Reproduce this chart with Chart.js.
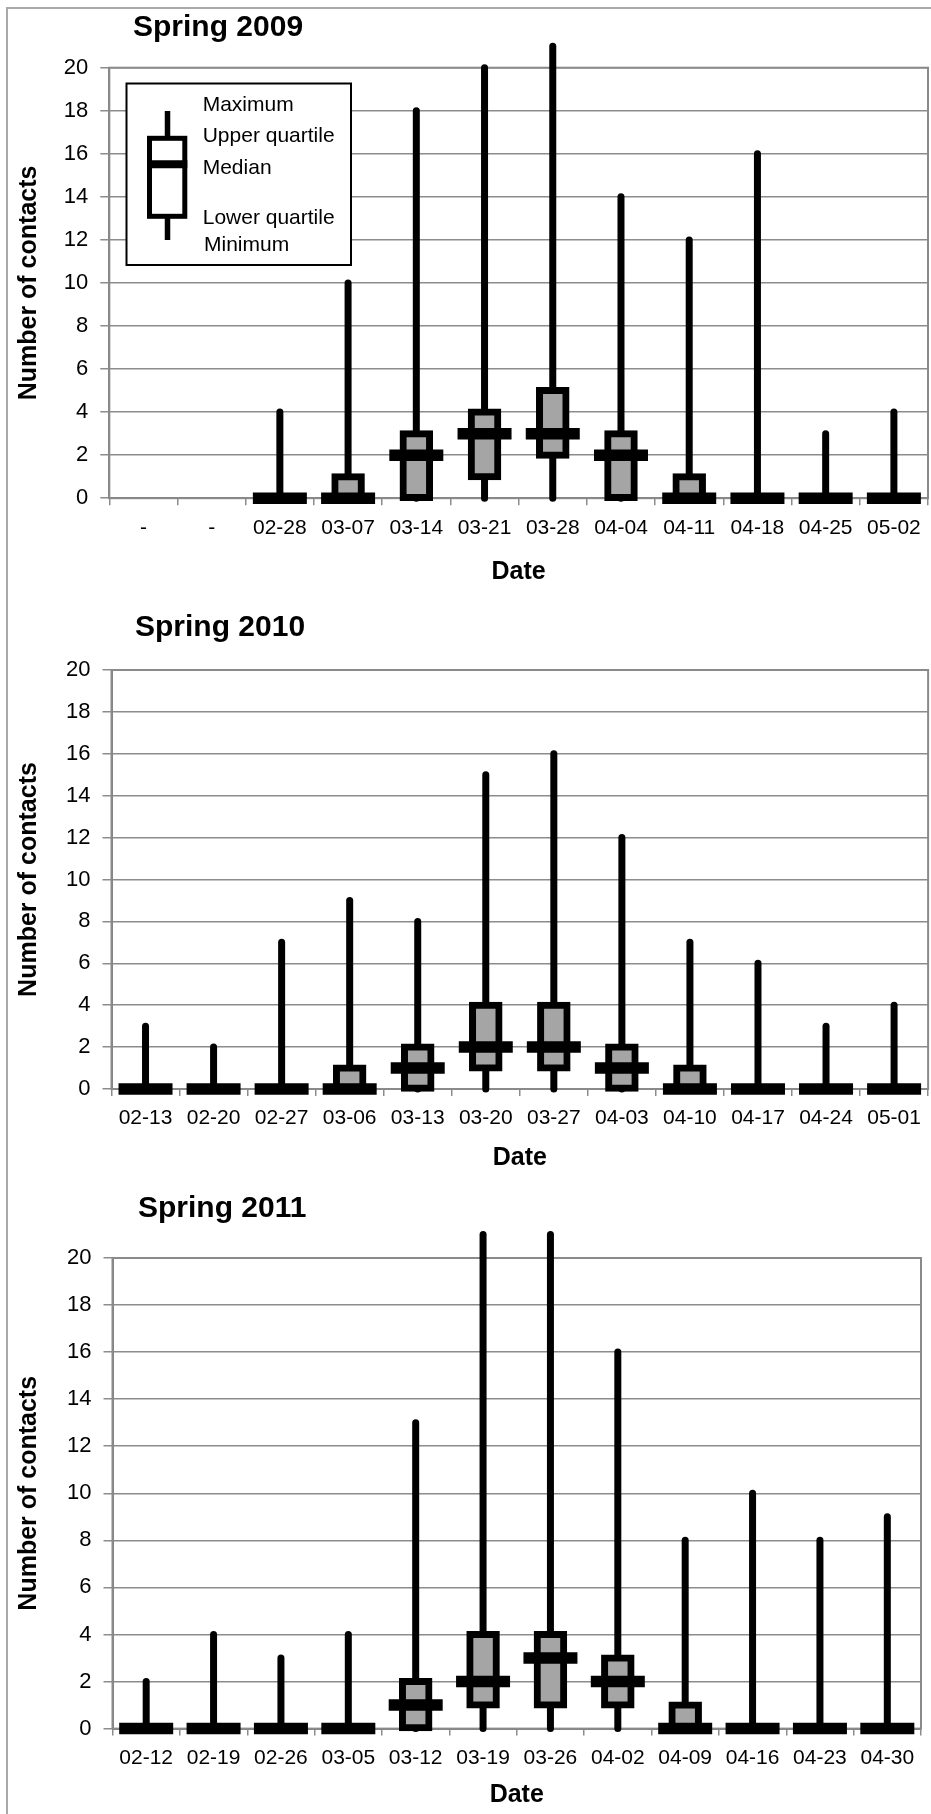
<!DOCTYPE html>
<html>
<head>
<meta charset="utf-8">
<script src="https://cdn.jsdelivr.net/npm/chart.js@4.4.1/dist/chart.umd.min.js"></script>
<style>
  html, body { margin: 0; padding: 0; background: #fff; overflow: hidden; }
  #page { position: relative; width: 931px; height: 1814px; }
  #frame { position: absolute; left: 6px; top: 7px; width: 940px; height: 1820px;
           border-left: 2px solid #a9a9a9; border-top: 2px solid #a9a9a9; }
  canvas { position: absolute; left: 0; }
</style>
</head>
<body>
<div id="page">
  <div id="frame"></div>
  <canvas id="c2009" width="931" height="600" style="top:0px;width:931px;height:600px"></canvas>
  <canvas id="c2010" width="931" height="590" style="top:600px;width:931px;height:590px"></canvas>
  <canvas id="c2011" width="931" height="624" style="top:1190px;width:931px;height:624px"></canvas>
</div>
<script>
// Weekly number of contacts: min, quartiles, median and max per survey week.

// ---- Spring 2009 ----
const dates2009 = ['-', '-', '02-28', '03-07', '03-14', '03-21', '03-28', '04-04', '04-11', '04-18', '04-25', '05-02'];
const min2009 = [null, null, 0, 0, 0, 0, 0, 0, 0, 0, 0, 0];
const q1_2009 = [null, null, 0, 0, 0, 1, 2, 0, 0, 0, 0, 0];
const med2009 = [null, null, 0, 0, 2, 3, 3, 2, 0, 0, 0, 0];
const q3_2009 = [null, null, 0, 1, 3, 4, 5, 3, 1, 0, 0, 0];
const max2009 = [null, null, 4, 10, 18, 20, 21, 14, 12, 16, 3, 4];

// ---- Spring 2010 ----
const dates2010 = ['02-13', '02-20', '02-27', '03-06', '03-13', '03-20', '03-27', '04-03', '04-10', '04-17', '04-24', '05-01'];
const min2010 = [0, 0, 0, 0, 0, 0, 0, 0, 0, 0, 0, 0];
const q1_2010 = [0, 0, 0, 0, 0, 1, 1, 0, 0, 0, 0, 0];
const med2010 = [0, 0, 0, 0, 1, 2, 2, 1, 0, 0, 0, 0];
const q3_2010 = [0, 0, 0, 1, 2, 4, 4, 2, 1, 0, 0, 0];
const max2010 = [3, 2, 7, 9, 8, 15, 16, 12, 7, 6, 3, 4];

// ---- Spring 2011 ----
const dates2011 = ['02-12', '02-19', '02-26', '03-05', '03-12', '03-19', '03-26', '04-02', '04-09', '04-16', '04-23', '04-30'];
const min2011 = [0, 0, 0, 0, 0, 0, 0, 0, 0, 0, 0, 0];
const q1_2011 = [0, 0, 0, 0, 0, 1, 1, 1, 0, 0, 0, 0];
const med2011 = [0, 0, 0, 0, 1, 2, 3, 2, 0, 0, 0, 0];
const q3_2011 = [0, 0, 0, 0, 2, 4, 4, 3, 1, 0, 0, 0];
const max2011 = [2, 4, 3, 4, 13, 21, 21, 16, 8, 10, 8, 9];

// Shared value axis
const yMin = 0;
const yMax = 20;
const yStep = 2;

const FONT = "'Liberation Sans', Arial, Helvetica, sans-serif";
const GRID = '#8c8c8c';
const BOX_FILL = '#a5a5a5';

// Whiskers: one thick round-capped segment per week, minimum to maximum
function whiskerSets(labels, lo, hi) {
  const sets = [];
  labels.forEach((lab, i) => {
    if (hi[i] == null || lo[i] == null) return;
    sets.push({
      type: 'line',
      data: [{ x: lab, y: lo[i] }, { x: lab, y: hi[i] }],
      borderColor: '#000', borderWidth: 7, borderCapStyle: 'round',
      pointRadius: 0, clip: false, order: 3
    });
  });
  return sets;
}

// Interquartile boxes as floating bars (only where the box has height)
function boxSet(q1, q3) {
  return {
    type: 'bar',
    data: q1.map((v, i) => (v != null && q3[i] != null && q3[i] > v) ? [v, q3[i]] : null),
    backgroundColor: BOX_FILL, borderColor: '#000', borderWidth: 7, borderSkipped: false,
    barThickness: 26.5, inflateAmount: 3.5, clip: false, order: 2
  };
}

// Medians as wide horizontal dashes
function medianSet(med) {
  return {
    type: 'line', data: med, showLine: false, pointStyle: 'line',
    pointRadius: 27, pointHoverRadius: 27, pointBorderWidth: 11.5,
    pointBorderColor: '#000', pointBackgroundColor: '#000',
    clip: false, order: 1
  };
}

const plotFrame = {
  id: 'plotFrame',
  beforeDatasetsDraw(chart) {
    const { ctx, chartArea: a } = chart;
    ctx.save();
    ctx.strokeStyle = '#8a8a8a';
    ctx.lineWidth = 2;
    ctx.strokeRect(a.left, a.top, a.right - a.left, a.bottom - a.top);
    ctx.restore();
  }
};

function panelTitle(text, x, baseline) {
  return {
    id: 'panelTitle',
    afterDraw(chart) {
      const ctx = chart.ctx;
      ctx.save();
      ctx.fillStyle = '#000';
      ctx.font = `bold 30px ${FONT}`;
      ctx.textBaseline = 'alphabetic';
      ctx.fillText(text, x, baseline);
      ctx.restore();
    }
  };
}

// Key explaining the box symbol
const boxKey = {
  id: 'boxKey',
  afterDatasetsDraw(chart) {
    const ctx = chart.ctx;
    ctx.save();
    ctx.fillStyle = '#fff';
    ctx.fillRect(126, 83, 225, 182);
    ctx.strokeStyle = '#000';
    ctx.lineWidth = 2;
    ctx.strokeRect(126.5, 83.5, 224.5, 181.5);
    ctx.lineWidth = 5.5;
    ctx.beginPath(); ctx.moveTo(167.5, 111); ctx.lineTo(167.5, 240); ctx.stroke();
    ctx.fillStyle = '#fff';
    ctx.fillRect(149.5, 138.3, 35.3, 78);
    ctx.lineWidth = 5;
    ctx.strokeRect(149.5, 138.3, 35.3, 78);
    ctx.lineWidth = 8;
    ctx.beginPath(); ctx.moveTo(147, 164.2); ctx.lineTo(187.3, 164.2); ctx.stroke();
    ctx.fillStyle = '#000';
    ctx.font = `21px ${FONT}`;
    ctx.textBaseline = 'alphabetic';
    ctx.fillText('Maximum', 202.7, 111);
    ctx.fillText('Upper quartile', 202.7, 142.4);
    ctx.fillText('Median', 202.7, 174.1);
    ctx.fillText('Lower quartile', 202.7, 223.9);
    ctx.fillText('Minimum', 204, 251.4);
    ctx.restore();
  }
};

function makePanel(id, labels, lo, q1, med, q3, hi, lay, extraPlugins) {
  return new Chart(document.getElementById(id), {
    type: 'bar',
    data: { labels: labels, datasets: [medianSet(med), boxSet(q1, q3), ...whiskerSets(labels, lo, hi)] },
    options: {
      responsive: false, devicePixelRatio: 1, animation: false, events: [],
      layout: { autoPadding: false, padding: { top: lay.padTop, right: lay.padRight, left: 0, bottom: 0 } },
      plugins: { legend: { display: false }, tooltip: { enabled: false }, title: { display: false } },
      scales: {
        x: {
          type: 'category', offset: true,
          grid: { display: true, drawOnChartArea: false, drawTicks: true, tickLength: 7, offset: true, color: GRID, lineWidth: 1.5 },
          border: { display: true, color: '#808080', width: 2 },
          ticks: { font: { family: FONT, size: 21 }, color: '#000', padding: 10, maxRotation: 0, minRotation: 0, autoSkip: false },
          title: { display: true, text: 'Date', color: '#000', font: { family: FONT, size: 25, weight: 'bold' }, padding: { top: 0, bottom: lay.datePad } },
          afterFit(s) { s.height = lay.xAxisH; }
        },
        y: {
          min: yMin, max: yMax,
          ticks: { stepSize: yStep, font: { family: FONT, size: 22 }, color: '#000', padding: 12 },
          grid: { color: GRID, lineWidth: 1.5, tickLength: 9, drawTicks: true },
          border: { display: true, color: '#808080', width: 2 },
          title: { display: true, text: 'Number of contacts', color: '#000', font: { family: FONT, size: 25, weight: 'bold' }, padding: { top: 14, bottom: 0 } },
          afterFit(s) { s.width = lay.yAxisW; }
        }
      }
    },
    plugins: [plotFrame, ...extraPlugins]
  });
}

makePanel('c2009', dates2009, min2009, q1_2009, med2009, q3_2009, max2009,
  { padTop: 67.7, padRight: 3, xAxisH: 101.8, yAxisW: 109.3, datePad: 13 },
  [panelTitle('Spring 2009', 133, 36), boxKey]);

makePanel('c2010', dates2010, min2010, q1_2010, med2010, q3_2010, max2010,
  { padTop: 70, padRight: 1.5, xAxisH: 101, yAxisW: 111.5, datePad: 16.7 },
  [panelTitle('Spring 2010', 135, 36.4)]);

makePanel('c2011', dates2011, min2011, q1_2011, med2011, q3_2011, max2011,
  { padTop: 68, padRight: 10, xAxisH: 85.4, yAxisW: 112.5, datePad: 4 },
  [panelTitle('Spring 2011', 138, 26.7)]);
</script>
</body>
</html>
